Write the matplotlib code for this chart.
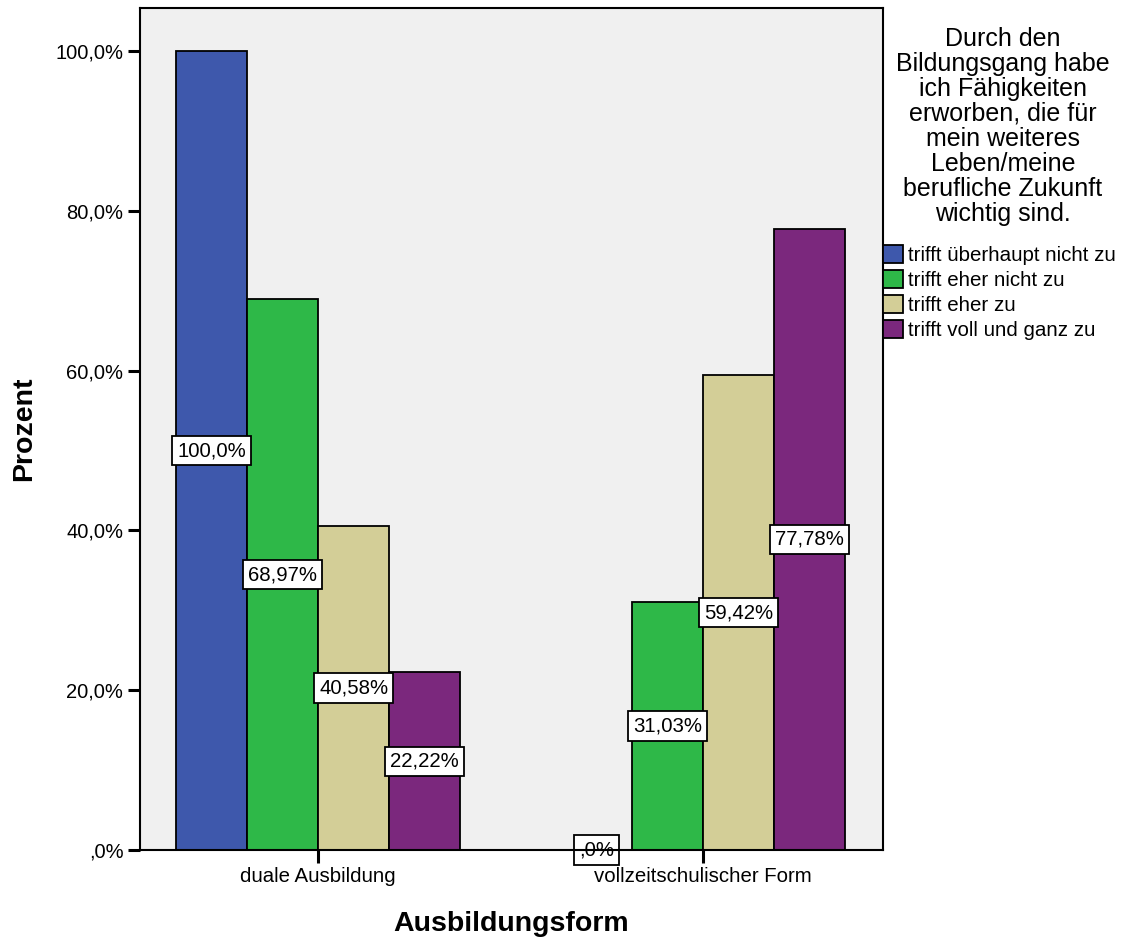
import matplotlib
matplotlib.use("Agg")
import matplotlib.pyplot as plt
import numpy as np

plt.rcParams['font.family'] = ['Liberation Sans', 'DejaVu Sans']

# column percentages per training form
groups = ["duale Ausbildung", "vollzeitschulischer Form"]
answers = ["trifft überhaupt nicht zu", "trifft eher nicht zu",
           "trifft eher zu", "trifft voll und ganz zu"]
pct_not_at_all = [100.0, 0.0]
pct_rather_not = [68.97, 31.03]
pct_rather = [40.58, 59.42]
pct_fully = [22.22, 77.78]
bar_text = [["100,0%", ",0%"], ["68,97%", "31,03%"],
            ["40,58%", "59,42%"], ["22,22%", "77,78%"]]
colors = ["#3E58AC", "#2EB848", "#D3CE97", "#7B287D"]
legend_title = ("Durch den\nBildungsgang habe\nich Fähigkeiten\nerworben, die für\n"
                "mein weiteres\nLeben/meine\nberufliche Zukunft\nwichtig sind.")

series = [pct_not_at_all, pct_rather_not, pct_rather, pct_fully]

fig = plt.figure(figsize=(11.22, 9.40), dpi=100)
ax = fig.add_axes([140 / 1122, 90 / 940, 743 / 1122, 842 / 940])
ax.set_facecolor("#F0F0F0")

x = np.arange(len(groups))
w = 0.1844
for i, (vals, col) in enumerate(zip(series, colors)):
    left = x + (i - 2) * w
    ax.bar(left, vals, width=w, align="edge", color=col,
           edgecolor="black", linewidth=1.3, label=answers[i], zorder=2)
    for j, v in enumerate(vals):
        ax.text(left[j] + w / 2, v / 2, bar_text[i][j], ha="center", va="center",
                fontsize=14.7, zorder=4,
                bbox=dict(boxstyle="square,pad=0.25", fc="white", ec="black", lw=1.3))

ax.set_xlim(-0.463, 1.467)
ax.set_ylim(0, 105.4)
ax.set_xticks(x)
ax.set_xticklabels(groups, fontsize=14.7)
yt = [0, 20, 40, 60, 80, 100]
ax.set_yticks(yt)
ax.set_yticklabels([",0%", "20,0%", "40,0%", "60,0%", "80,0%", "100,0%"], fontsize=14.5)
ax.tick_params(axis="both", length=9, width=2.2, direction="out", pad=3)

for s in ax.spines.values():
    s.set_linewidth(1.5)
    s.set_zorder(5)

ax.set_ylabel("Prozent", fontsize=20.5, fontweight="bold", labelpad=13)
ax.set_xlabel("Ausbildungsform", fontsize=20.5, fontweight="bold", labelpad=18)

# legend title drawn as its own centred text block
fig.text(1003 / 1122, 1 - 27 / 940, legend_title, ha="center", va="top",
         multialignment="center", fontsize=18.0, linespacing=1.05)

fig.legend(loc="upper left", bbox_to_anchor=(883 / 1122, 1 - 245 / 940),
           frameon=False, fontsize=14.8, handlelength=0.95, handleheight=0.95,
           handletextpad=0.27, labelspacing=0.25, borderpad=0,
           borderaxespad=0)

fig.savefig("out.png", dpi=100)
